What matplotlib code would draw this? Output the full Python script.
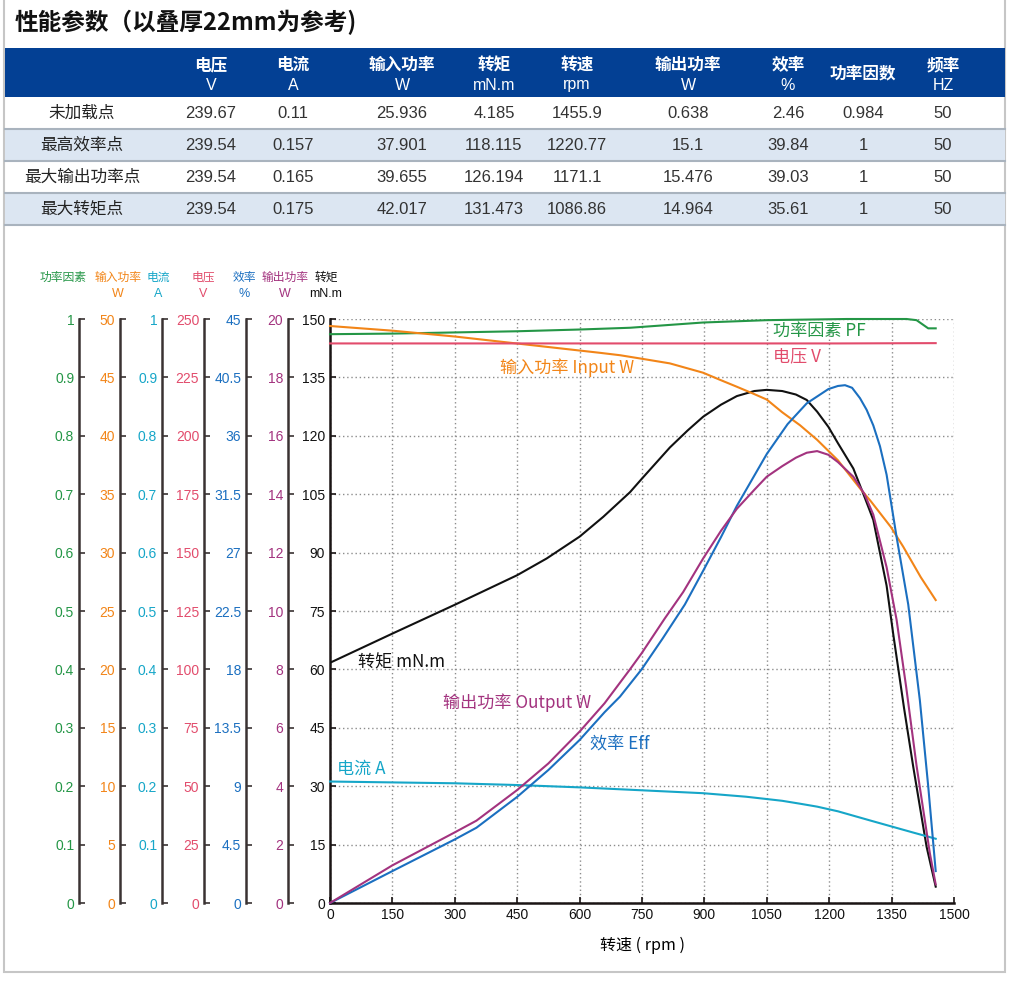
import numpy as np
import matplotlib
matplotlib.use('Agg')
import matplotlib.pyplot as plt
import matplotlib.font_manager as fm
from matplotlib.patches import Rectangle

installed = {f.name for f in fm.fontManager.ttflist}
NUM = ['Liberation Sans Narrow', 'Liberation Sans', 'Noto Sans CJK SC']
NUM = [f for f in NUM if f in installed] + ['DejaVu Sans']
CJK = ['Noto Sans CJK SC', 'DejaVu Sans']
TXT = ['Liberation Sans', 'Noto Sans CJK SC', 'DejaVu Sans']
plt.rcParams['font.family'] = NUM

# ---- table data ----
title = '性能参数（以叠厚22mm为参考)'
col_names = ['电压', '电流', '输入功率', '转矩', '转速', '输出功率', '效率', '功率因数', '频率']
col_units = ['V', 'A', 'W', 'mN.m', 'rpm', 'W', '%', '', 'HZ']
row_names = ['未加载点', '最高效率点', '最大输出功率点', '最大转矩点']
table_rows = [
    ['239.67', '0.11', '25.936', '4.185', '1455.9', '0.638', '2.46', '0.984', '50'],
    ['239.54', '0.157', '37.901', '118.115', '1220.77', '15.1', '39.84', '1', '50'],
    ['239.54', '0.165', '39.655', '126.194', '1171.1', '15.476', '39.03', '1', '50'],
    ['239.54', '0.175', '42.017', '131.473', '1086.86', '14.964', '35.61', '1', '50'],
]

# ---- curve data ----
torque_rpm = [0, 150, 300, 450, 521, 600, 657, 721, 749, 817, 860, 897, 940, 978, 1020, 1050, 1087,
              1120, 1146, 1171, 1198, 1221, 1258, 1286, 1306, 1338, 1354, 1380, 1402, 1434, 1456]
torque = [61.7, 69.2, 76.6, 84.2, 88.5, 94.1, 99.2, 105.5, 108.9, 117.0, 121.4, 124.9, 128.0, 130.2,
          131.5, 131.8, 131.5, 130.6, 129.2, 126.2, 122.3, 118.1, 111.6, 104.0, 98.4, 81.5, 69.0,
          50.0, 35.0, 14.5, 4.2]

out_rpm = [0, 150, 300, 352, 450, 525, 600, 660, 721, 749, 805, 849, 897, 940, 978, 1020, 1050, 1087,
           1120, 1146, 1171, 1198, 1221, 1258, 1285, 1306, 1338, 1362, 1385, 1410, 1442, 1456]
out_w = [0, 1.29, 2.42, 2.82, 3.87, 4.78, 5.87, 6.84, 8.0, 8.55, 9.75, 10.65, 11.8, 12.75, 13.5, 14.15,
         14.6, 14.96, 15.25, 15.42, 15.476, 15.35, 15.1, 14.6, 14.0, 13.3, 11.5, 9.7, 7.4, 4.7, 1.7, 0.638]

eff_rpm = [0, 150, 300, 352, 450, 525, 600, 660, 697, 749, 800, 853, 897, 940, 978, 1050, 1100, 1146,
           1198, 1221, 1238, 1255, 1274, 1290, 1306, 1322, 1338, 1362, 1390, 1418, 1438, 1456]
eff = [0, 2.46, 4.9, 5.8, 8.18, 10.25, 12.56, 14.7, 15.9, 18.0, 20.4, 23.0, 25.6, 28.2, 30.6, 34.6,
       36.9, 38.5, 39.6, 39.84, 39.9, 39.7, 38.9, 38.0, 36.8, 35.2, 33.0, 28.2, 23.0, 15.6, 9.0, 2.46]

pin_rpm = [0, 150, 300, 450, 600, 650, 697, 749, 817, 897, 937, 978, 1018, 1050, 1087, 1130, 1171,
           1221, 1274, 1300, 1348, 1378, 1420, 1456]
pin_w = [49.4, 49.0, 48.5, 47.9, 47.3, 47.1, 46.9, 46.6, 46.2, 45.4, 44.8, 44.2, 43.6, 43.1, 42.017,
         40.9, 39.655, 37.901, 35.5, 34.4, 32.2, 30.5, 27.9, 25.936]

cur_rpm = [0, 300, 450, 600, 749, 897, 1000, 1050, 1087, 1130, 1171, 1221, 1300, 1400, 1456]
cur_a = [0.208, 0.205, 0.202, 0.198, 0.193, 0.188, 0.182, 0.178, 0.175, 0.170, 0.165, 0.157, 0.141,
         0.121, 0.11]

pf_rpm = [0, 150, 300, 450, 600, 721, 897, 1050, 1242, 1386, 1410, 1438, 1456]
pf = [0.974, 0.975, 0.977, 0.979, 0.982, 0.985, 0.994, 0.998, 1.0, 1.0, 0.998, 0.984, 0.984]

volt_rpm = [0, 1087, 1171, 1221, 1456]
volt = [239.54, 239.54, 239.54, 239.54, 239.67]

rpm_ticks = list(range(0, 1501, 150))
torque_ticks = list(range(0, 151, 15))

fig = plt.figure(figsize=(10.1, 9.88), dpi=100)

# background layer in pixel units for title, table, frame
bg = fig.add_axes([0, 0, 1, 1])
bg.set_xlim(0, 1010)
bg.set_ylim(988, 0)
bg.axis('off')
bg.add_patch(Rectangle((4, -5), 1001, 977, fill=False, ec='#c6c6c6', lw=1.5))
bg.text(15, 22, title, fontsize=17, family=CJK, weight='bold', color='#111111', va='center', ha='left')

col_x = [82, 211, 293, 402, 494, 577, 688, 788, 863, 943]
bg.add_patch(Rectangle((5, 48), 1000, 49, color='#034094', lw=0))
for i, (name, unit) in enumerate(zip(col_names, col_units)):
    cx = col_x[i + 1]
    if unit:
        bg.text(cx, 65, name, fontsize=12, family=CJK, weight='bold', color='white', ha='center', va='center')
        bg.text(cx, 85, unit, fontsize=11.5, family=TXT, color='white', ha='center', va='center')
    else:
        bg.text(cx, 73, name, fontsize=12, family=CJK, weight='bold', color='white', ha='center', va='center')

for r, (name, vals) in enumerate(zip(row_names, table_rows)):
    top = 97 + 32 * r
    if r % 2 == 1:
        bg.add_patch(Rectangle((5, top), 1000, 32, color='#dce6f2', lw=0))
    bg.plot([5, 1005], [top + 32, top + 32], color='#a9b3be', lw=1.5)
    cy = top + 16
    bg.text(col_x[0], cy, name, fontsize=12, family=CJK, color='#222222', ha='center', va='center')
    for c, v in enumerate(vals):
        bg.text(col_x[c + 1], cy, v, fontsize=12, family=TXT, color='#333333', ha='center', va='center')

# ---- chart ----
spine_col = '#3a3232'
ax = fig.add_axes([330 / 1010, 85 / 988, 624 / 1010, 584 / 988])
ax.set_facecolor('none')
ax.set_xlim(0, 1500)
ax.set_ylim(0, 150)
ax.set_xticks(rpm_ticks)
ax.set_yticks(torque_ticks)
ax.grid(True, color='#8c8c8c', lw=1, ls=(0, (1, 2)))
ax.set_axisbelow(True)
ax.spines['top'].set_visible(False)
ax.spines['right'].set_visible(False)
for s in ['left', 'bottom']:
    ax.spines[s].set_linewidth(1.8)
    ax.spines[s].set_color('#1a1414')
ax.tick_params(direction='in', length=4, width=1.2, color='#1a1414', labelsize=10, labelcolor='#111111')
ax.set_xlabel('转速 ( rpm )', family=CJK, fontsize=11.5, labelpad=11)
ax.plot(torque_rpm, torque, color='#111111', lw=1.5, zorder=3)

axes_spec = [
    # rpm, values, ylim, ticks, colour, name, unit, spine x (px), header x (px)
    (pf_rpm, pf, 1.0, np.round(np.arange(0, 1.01, 0.1), 1), '#249646', '功率因素', '', 79, 63),
    (pin_rpm, pin_w, 50, np.arange(0, 51, 5), '#f28518', '输入功率', 'W', 120, 118),
    (cur_rpm, cur_a, 1.0, np.round(np.arange(0, 1.01, 0.1), 1), '#16a6c8', '电流', 'A', 162, 158),
    (volt_rpm, volt, 250, np.arange(0, 251, 25), '#e24c6c', '电压', 'V', 204, 203),
    (eff_rpm, eff, 45, np.round(np.arange(0, 45.1, 4.5), 1), '#1b6fc0', '效率', '%', 246, 244),
    (out_rpm, out_w, 20, np.arange(0, 21, 2), '#a3337f', '输出功率', 'W', 288, 285),
]

for xs, ys, ymax, ticks, col, name, unit, sx, hx in axes_spec:
    tw = ax.twinx()
    tw.set_ylim(0, ymax)
    for s in ['top', 'right', 'bottom']:
        tw.spines[s].set_visible(False)
    tw.spines['left'].set_visible(True)
    tw.spines['left'].set_position(('axes', (sx - 330) / 624))
    tw.spines['left'].set_linewidth(1.8)
    tw.spines['left'].set_color(spine_col)
    tw.yaxis.set_ticks_position('left')
    tw.set_yticks(ticks)
    tw.set_yticklabels(['%g' % t for t in ticks])
    tw.tick_params(axis='y', direction='in', length=4, width=1.2, color=spine_col,
                   labelcolor=col, labelsize=10)
    tw.plot(xs, ys, color=col, lw=1.5, clip_on=False, zorder=3)
    bg.text(hx, 277, name, fontsize=8.5, family=CJK, color=col, ha='center', va='center')
    if unit:
        bg.text(hx, 294, unit, fontsize=9, family=TXT, color=col, ha='center', va='center')

bg.text(326, 277, '转矩', fontsize=8.5, family=CJK, color='#111111', ha='center', va='center')
bg.text(326, 294, 'mN.m', fontsize=9, family=TXT, color='#111111', ha='center', va='center')

# curve labels, drawn above all axes
curve_labels = [
    ('功率因素 PF', 773, 331, '#249646'),
    ('电压 V', 773, 356, '#e24c6c'),
    ('输入功率 Input W', 500, 368, '#f28518'),
    ('转矩 mN.m', 358, 662, '#111111'),
    ('输出功率 Output W', 443, 703, '#a3337f'),
    ('效率 Eff', 590, 745, '#1b6fc0'),
    ('电流 A', 337, 769, '#16a6c8'),
]
for txt, x, y, col in curve_labels:
    fig.text(x, y, txt, transform=bg.transData, fontsize=12.3, family=CJK, color=col,
             ha='left', va='center')

fig.savefig('out.png', dpi=100)
